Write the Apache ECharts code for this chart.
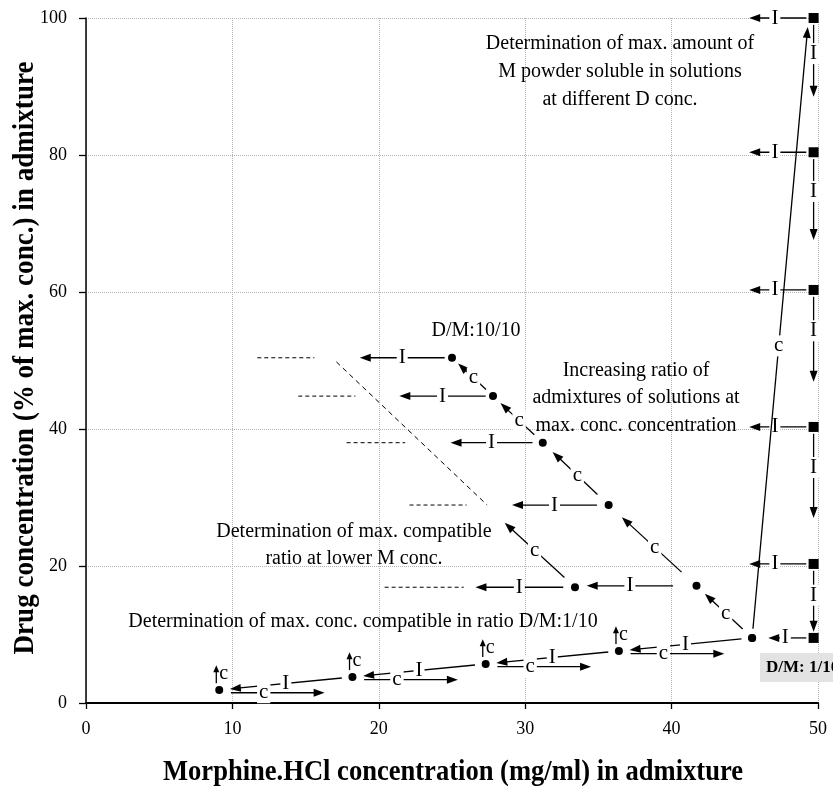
<!DOCTYPE html>
<html>
<head>
<meta charset="utf-8">
<script src="https://cdn.jsdelivr.net/npm/echarts@6/dist/echarts.min.js"></script>
<style>
  html, body { margin: 0; padding: 0; background: #fff; }
  #chart { width: 833px; height: 788px; }
</style>
</head>
<body>
<div id="chart"></div>
<script>
// Axis ticks
const xTicks = [0, 10, 20, 30, 40, 50];
const yTicks = [0, 20, 40, 60, 80, 100];

// Admixtures at maximum concentration with increasing D/M ratio (M in mg/ml, D in % of max.)
const maxConcM = [45.5, 41.7, 35.7, 31.2, 27.8, 25.0];
const maxConcD = [9.5, 17.1, 28.9, 38.0, 44.8, 50.4];

// Compatible ratio found at a lower M concentration
const lowerM = [33.4];
const lowerD = [16.9];
const lowerArrowTo = [28.6, 26.3];

// Dilutions of the D/M 1/10 admixture
const ratioM = [9.1, 18.2, 27.3, 36.4, 45.5];
const ratioD = [1.9, 3.8, 5.7, 7.6, 9.5];

// Solutions saturated with M powder at several D concentrations
const powderM = 49.7;
const powderD = [100, 80.4, 60.3, 40.3, 20.3, 9.5];
const powderDropTo = [88.5, 67.6, 46.9, 27.0, 10.4];
const powderStepTo = [45.3, 45.3, 45.3, 45.3, 45.3, 46.6];
const powderRiseTo = [49.3, 98.7];

// Incompatible (I) steps towards lower M concentration
const stepD = [50.4, 44.8, 38.0, 28.9, 17.1, 16.9];
const stepFromM = [24.5, 27.3, 30.5, 34.9, 40.1, 32.6];
const stepToM = [18.7, 21.4, 24.9, 29.1, 34.2, 26.6];

// Dashed continuation of the I steps
const guideD = [50.4, 44.8, 38.0, 28.9, 16.9];
const guideFromM = [11.7, 14.5, 17.8, 22.1, 20.4];
const guideToM = [15.6, 18.4, 21.8, 26.0, 25.8];

// Dashed compatibility boundary at lower M concentration
const boundaryM = [17.1, 27.4];
const boundaryD = [49.8, 28.9];

const SERIF = '"Liberation Serif", "Times New Roman", serif';

// ---- arrow list built from the values above ----
const arrows = [];
function add(x1, y1, x2, y2, opt) {
  arrows.push(Object.assign({ c: [x1, y1, x2, y2], arrow: true }, opt || {}));
}
function along(x1, y1, x2, y2, t0, t1, opt) {
  add(x1 + (x2 - x1) * t0, y1 + (y2 - y1) * t0,
      x1 + (x2 - x1) * t1, y1 + (y2 - y1) * t1, opt);
}

// c arrows along the maximum-concentration chain
for (let i = 0; i < maxConcM.length - 1; i++) {
  along(maxConcM[i], maxConcD[i], maxConcM[i + 1], maxConcD[i + 1], 0.17, 0.85, { text: 'c', t: 0.45 });
}
// c arrow from the lower-M point
along(lowerM[0], lowerD[0], lowerArrowTo[0], lowerArrowTo[1], 0.15, 1, { text: 'c', t: 0.5 });
// I steps and their dashed continuations
for (let i = 0; i < stepD.length; i++) {
  add(stepFromM[i], stepD[i], stepToM[i], stepD[i], { text: 'I', t: 0.5 });
}
for (let i = 0; i < guideD.length; i++) {
  add(guideFromM[i], guideD[i], guideToM[i], guideD[i], { arrow: false, dash: [4, 3] });
}
add(boundaryM[0], boundaryD[0], boundaryM[1], boundaryD[1], { arrow: false, dash: [5, 4] });

// M powder solutions: I steps to the left and downwards
for (let i = 0; i < powderD.length; i++) {
  add(powderM - 0.5, powderD[i], powderStepTo[i], powderD[i], { text: 'I', t: 0.55 });
}
for (let i = 0; i < powderDropTo.length; i++) {
  add(powderM, powderD[i] - 1, powderM, powderDropTo[i], { text: 'I', t: 0.4 });
}
// rise from the D/M 1/10 admixture to the saturated solution
along(ratioM[4], ratioD[4], powderRiseTo[0], powderRiseTo[1], 0.015, 1, { text: 'c', t: 0.47 });

// D/M 1/10 dilution chain
for (let i = 0; i < ratioM.length - 1; i++) {
  along(ratioM[i + 1], ratioD[i + 1], ratioM[i], ratioD[i], 0.08, 0.92, { text: 'I', t: 0.5 });
  add(ratioM[i] + 0.8, ratioD[i] - 0.4, ratioM[i] + 7.2, ratioD[i] - 0.4, { text: 'c', t: 0.35 });
  add(ratioM[i] - 0.2, ratioD[i] + 1.0, ratioM[i] - 0.2, ratioD[i] + 3.6, { text: 'c', side: true, head: 7 });
}

function renderArrow(params, api) {
  const a = arrows[params.dataIndex];
  const p1 = api.coord([api.value(0), api.value(1)]);
  const p2 = api.coord([api.value(2), api.value(3)]);
  const dx = p2[0] - p1[0], dy = p2[1] - p1[1];
  const len = Math.hypot(dx, dy) || 1;
  const ux = dx / len, uy = dy / len;
  const hl = a.head || 11, hw = a.head ? 3 : 4;
  const children = [];
  const end = a.arrow ? [p2[0] - ux * hl * 0.7, p2[1] - uy * hl * 0.7] : p2;
  children.push({
    type: 'line',
    shape: { x1: p1[0], y1: p1[1], x2: end[0], y2: end[1] },
    style: { stroke: '#000', lineWidth: a.dash ? 1 : 1.3, lineDash: a.dash || null }
  });
  if (a.arrow) {
    children.push({
      type: 'polygon',
      shape: { points: [
        [p2[0], p2[1]],
        [p2[0] - ux * hl - uy * hw, p2[1] - uy * hl + ux * hw],
        [p2[0] - ux * hl + uy * hw, p2[1] - uy * hl - ux * hw]
      ] },
      style: { fill: '#000' }
    });
  }
  if (a.text) {
    if (a.side) {
      children.push({
        type: 'text',
        style: { text: a.text, x: p2[0] + 3, y: p2[1] + 8, font: '20px ' + SERIF,
                 fill: '#000', align: 'left', verticalAlign: 'middle' }
      });
    } else {
      children.push({
        type: 'text',
        style: { text: a.text, x: p1[0] + dx * a.t, y: p1[1] + dy * a.t, font: '21px ' + SERIF,
                 fill: '#000', align: 'center', verticalAlign: 'middle',
                 backgroundColor: '#fff', padding: [0, 2] }
      });
    }
  }
  return { type: 'group', children: children };
}

// width-fitting for the condensed axis titles
function fitScale(text, font, width) {
  const ctx = document.createElement('canvas').getContext('2d');
  ctx.font = font;
  return width / ctx.measureText(text).width;
}
const titleFont = 'bold 29px ' + SERIF;
const xTitle = 'Morphine.HCl concentration (mg/ml) in admixture';
const yTitle = 'Drug concentration (% of max. conc.) in admixture';

const chart = echarts.init(document.getElementById('chart'), null, { renderer: 'canvas' });

const splitStyle = { color: '#b4b4b4', type: 'dotted', width: 1 };

chart.setOption({
  animation: false,
  backgroundColor: '#fff',
  grid: { left: 86, right: 15, top: 18, bottom: 85, containLabel: false },
  xAxis: {
    type: 'value', min: xTicks[0], max: xTicks[xTicks.length - 1], interval: 10,
    axisLine: { lineStyle: { color: '#000', width: 2 } },
    axisTick: { show: true, length: 6, lineStyle: { color: '#000', width: 1.3 } },
    axisLabel: { color: '#000', fontFamily: SERIF, fontSize: 18, margin: 17 },
    splitLine: { show: true, lineStyle: splitStyle }
  },
  yAxis: {
    type: 'value', min: yTicks[0], max: yTicks[yTicks.length - 1], interval: 20,
    axisLine: { show: true, lineStyle: { color: '#000', width: 1.5 } },
    axisTick: { show: true, length: 7, lineStyle: { color: '#000', width: 1.3 } },
    axisLabel: { color: '#000', fontFamily: SERIF, fontSize: 18, margin: 19 },
    splitLine: { show: true, lineStyle: splitStyle }
  },
  series: [
    {
      type: 'custom',
      renderItem: renderArrow,
      encode: { x: [0, 2], y: [1, 3] },
      data: arrows.map(a => a.c),
      silent: true,
      z: 3
    },
    {
      type: 'scatter',
      symbol: 'circle',
      symbolSize: 8,
      itemStyle: { color: '#000', opacity: 1 },
      data: maxConcM.map((m, i) => [m, maxConcD[i]])
        .concat(lowerM.map((m, i) => [m, lowerD[i]]))
        .concat(ratioM.map((m, i) => [m, ratioD[i]])),
      silent: true,
      z: 5
    },
    {
      type: 'scatter',
      symbol: 'rect',
      symbolSize: 10,
      itemStyle: { color: '#000', opacity: 1 },
      data: powderD.map(d => [powderM, d]),
      silent: true,
      z: 5
    }
  ],
  graphic: [
    {
      type: 'rect', left: 760, top: 653, shape: { width: 80, height: 29 },
      style: { fill: '#e3e3e3' }, z: 1
    },
    {
      type: 'text', x: 766, y: 668, z: 10,
      style: { text: 'D/M: 1/10', font: 'bold 17px ' + SERIF, fill: '#000', align: 'left', verticalAlign: 'middle' }
    },
    {
      type: 'text', x: 620, y: 72, z: 10,
      style: { text: 'Determination of max. amount of\nM powder soluble in solutions\nat different D conc.',
               font: '20px ' + SERIF, lineHeight: 28, fill: '#000', align: 'center', verticalAlign: 'middle' }
    },
    {
      type: 'text', x: 476, y: 331, z: 10,
      style: { text: 'D/M:10/10', font: '20px ' + SERIF, fill: '#000', align: 'center', verticalAlign: 'middle' }
    },
    {
      type: 'text', x: 636, y: 398, z: 10,
      style: { text: 'Increasing ratio of\nadmixtures of solutions at\nmax. conc. concentration',
               font: '20px ' + SERIF, lineHeight: 27.5, fill: '#000', align: 'center', verticalAlign: 'middle' }
    },
    {
      type: 'text', x: 354, y: 545, z: 10,
      style: { text: 'Determination of max. compatible\nratio at lower M conc.',
               font: '20px ' + SERIF, lineHeight: 27, fill: '#000', align: 'center', verticalAlign: 'middle' }
    },
    {
      type: 'text', x: 363, y: 622, z: 10,
      style: { text: 'Determination of max. conc. compatible in ratio D/M:1/10',
               font: '20px ' + SERIF, fill: '#000', align: 'center', verticalAlign: 'middle' }
    },
    {
      type: 'text', x: 453, y: 773, z: 10,
      scaleX: fitScale(xTitle, titleFont, 580),
      style: { text: xTitle, font: titleFont, fill: '#000', align: 'center', verticalAlign: 'middle' }
    },
    {
      type: 'text', x: 26, y: 358, z: 10, rotation: Math.PI / 2,
      scaleX: fitScale(yTitle, titleFont, 593),
      style: { text: yTitle, font: titleFont, fill: '#000', align: 'center', verticalAlign: 'middle' }
    }
  ]
});
</script>
</body>
</html>
